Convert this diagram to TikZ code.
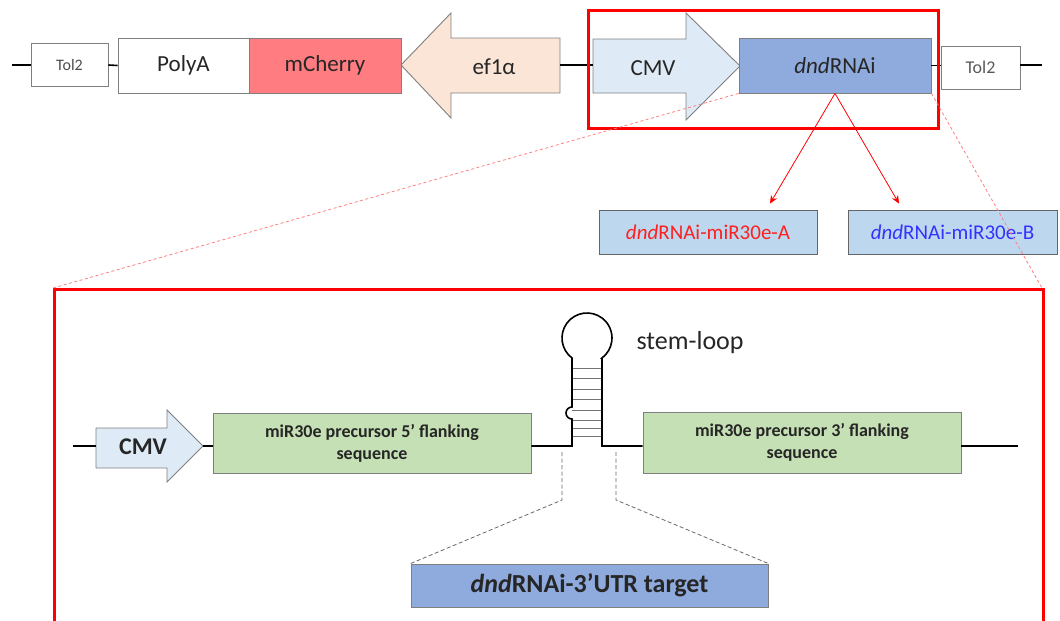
\documentclass[tikz,border=0pt]{standalone}
\usepackage{fontspec}
\setmainfont{Carlito}
\usetikzlibrary{arrows.meta,calc}

\definecolor{edgegray}{HTML}{7F7F7F}
\definecolor{peach}{HTML}{FBE5D6}
\definecolor{paleblue}{HTML}{DEEBF7}
\definecolor{dndblue}{HTML}{8FAADC}
\definecolor{cherry}{HTML}{FF7C80}
\definecolor{skyblue}{HTML}{BDD7EE}
\definecolor{leafgreen}{HTML}{C5E0B4}
\definecolor{zoomred}{HTML}{FF8080}
\definecolor{labelred}{HTML}{FF2020}
\definecolor{labelblue}{HTML}{3333FF}
\definecolor{ink}{HTML}{262626}

\tikzset{
  part/.style={draw=edgegray, line width=0.9pt, inner sep=0pt, text=ink},
  dna/.style={draw=black, line width=1.6pt},
  frame/.style={draw=red, line width=3pt, inner sep=0pt},
  zoomline/.style={draw=zoomred, line width=0.8pt, dash pattern=on 3pt off 2.5pt},
  guide/.style={draw=black!60, line width=0.8pt, dash pattern=on 4pt off 2.5pt},
  pick/.style={draw=red, line width=0.8pt, -{Stealth[length=8pt,width=7pt]}},
  rung/.style={draw=black!55, line width=0.8pt}
}

\begin{document}
\begin{tikzpicture}[x=1pt,y=-1pt]
\useasboundingbox (0,0) rectangle (1060,621);

% ---------------- construct overview ----------------
\node[part, minimum width=77, minimum height=43, font=\fontsize{16}{18}\selectfont, text=black!70]
  (tolL) at (69.5,65) {Tol2};
\node[part, fill=white, minimum width=131, minimum height=55, font=\fontsize{23}{26}\selectfont]
  (polyA) at (183.5,65.5) {PolyA};
\node[part, fill=cherry, minimum width=152, minimum height=55, font=\fontsize{23}{26}\selectfont]
  (cherry) at (325,65.5) {mCherry};

% ef1a promoter (left-pointing arrow)
\filldraw[fill=peach, draw=edgegray, line width=0.9pt]
  (401,65) -- (451,13) -- (451,38) -- (560,38) -- (560,93) -- (451,93) -- (451,118) -- cycle;
\coordinate (efTip) at (401,65);
\coordinate (efTail) at (560,65);
\node[font=\fontsize{23}{26}\selectfont, text=ink] (ef) at (494,67) {ef1α};

% CMV promoter (right-pointing arrow)
\filldraw[fill=paleblue, draw=edgegray, line width=0.9pt]
  (593,39) -- (686,39) -- (686,13) -- (740,66) -- (686,120) -- (686,93) -- (593,93) -- cycle;
\coordinate (cmvTail) at (593,65);
\coordinate (cmvTip) at (740,66);
\node[font=\fontsize{23}{26}\selectfont, text=ink] (cmv) at (653,68) {CMV};

\node[part, fill=dndblue, minimum width=192, minimum height=55, font=\fontsize{23}{26}\selectfont]
  (dnd) at (835,65.5) {\textit{dnd}RNAi};
\node[part, minimum width=79, minimum height=43, font=\fontsize{18}{20}\selectfont, text=black!65]
  (tolR) at (980.5,67.5) {Tol2};

\coordinate (leftEnd) at (12,65);
\coordinate (rightEnd) at (1042,65);
\draw[dna] (leftEnd) -- (tolL.west);
\draw[dna] (tolL.east) -- (polyA.west);
\draw[dna] (efTail) -- (cmvTail);
\draw[dna] (dnd.east) -- (tolR.west |- dnd.east);
\draw[dna] (tolR.east |- rightEnd) -- (rightEnd);

% highlighted cassette
\node[frame, minimum width=350, minimum height=118, anchor=north west] (hl) at (587,9) {};

% hairpin variants
\node[draw=black!60, line width=0.9pt, fill=skyblue, minimum width=218, minimum height=44,
  font=\fontsize{21}{24}\selectfont, text=labelred] (varA) at (708,232) {\textit{dnd}RNAi-miR30e-A};
\node[draw=black!60, line width=0.9pt, fill=skyblue, minimum width=209, minimum height=44,
  font=\fontsize{21}{24}\selectfont, text=labelblue] (varB) at (952.5,232) {\textit{dnd}RNAi-miR30e-B};
\draw[pick] (dnd.south) -- ([xshift=62pt,yshift=6pt]varA.north);
\draw[pick] (dnd.south) -- ([xshift=-53.5pt,yshift=6pt]varB.north);

% ---------------- detail panel ----------------
\node[frame, minimum width=989, minimum height=333, anchor=north west] (detail) at (53,288) {};
\draw[zoomline] (dnd.south west) -- (detail.north west);
\draw[zoomline] (dnd.south east) -- ([xshift=-3pt]detail.north east);

% CMV promoter in the detail
\filldraw[fill=paleblue, draw=edgegray, line width=0.9pt]
  (96,428) -- (167,428) -- (167,410) -- (203,446) -- (167,482) -- (167,468) -- (96,468) -- cycle;
\coordinate (cmvBTail) at (96,446);
\coordinate (cmvBTip) at (203,446);
\node[font=\bfseries\fontsize{24}{26}\selectfont, text=ink] (cmvB) at (143,447) {CMV};

\node[part, fill=leafgreen, minimum width=318, minimum height=60, align=center,
  font=\bfseries\fontsize{18}{22}\selectfont] (flank5) at (372,443)
  {miR30e precursor 5’ flanking\\sequence};
\node[part, fill=leafgreen, minimum width=318, minimum height=61, align=center,
  font=\bfseries\fontsize{18}{22}\selectfont] (flank3) at (802,442.5)
  {miR30e precursor 3’ flanking\\sequence};

\coordinate (detLeft) at (73,446);
\coordinate (detRight) at (1018,446);
\coordinate (stemL) at (572,446);
\coordinate (stemR) at (602,446);
\draw[dna] (detLeft) -- (cmvBTail);
\draw[dna] (cmvBTip) -- (flank5.west |- cmvBTip);
\draw[dna] (flank3.east |- detRight) -- (detRight);

% hairpin stem, bulge and terminal loop
\foreach \yy in {368,378,389,399,410,420,428,436}
  \draw[rung] (572,\yy) -- (602,\yy);
\draw[dna, line join=miter]
  (flank5.east |- stemL) -- (stemL) -- (572,419)
  arc[start angle=90, end angle=270, radius=6] -- (572,358)
  arc[start angle=126.87, end angle=413.13, radius=25] -- (602,358)
  -- (stemR) -- (flank3.west |- stemR);
\node[font=\fontsize{26}{28}\selectfont, text=ink, anchor=west] (loopLabel) at (633,343) {stem-loop};

% target sequence
\node[part, fill=dndblue, minimum width=357, minimum height=43,
  font=\bfseries\fontsize{26}{28}\selectfont] (target) at (589.5,585.5) {\textit{dnd}RNAi-3’UTR target};
\draw[guide] (562,452) -- (562,500) -- (target.north west);
\draw[guide] (616,452) -- (616,500) -- (target.north east);
\end{tikzpicture}
\end{document}
